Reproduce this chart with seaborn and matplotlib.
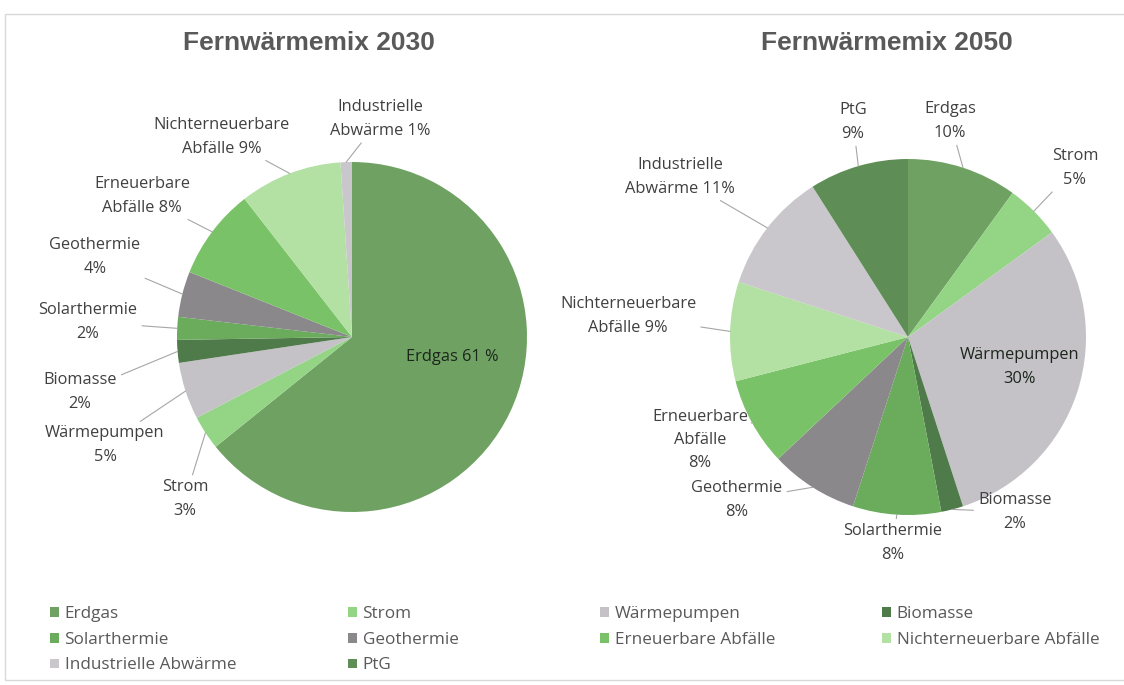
import matplotlib
matplotlib.use("Agg")
import matplotlib.pyplot as plt
from matplotlib.patches import Patch, Rectangle
import numpy as np
import seaborn as sns

# Energy sources (same order for both years, clockwise from 12 o'clock)
categories = ["Erdgas", "Strom", "Wärmepumpen", "Biomasse", "Solarthermie", "Geothermie",
              "Erneuerbare Abfälle", "Nichterneuerbare Abfälle", "Industrielle Abwärme", "PtG"]

# Shares in percent
share_2030 = [61, 3, 5, 2, 2, 4, 8, 9, 1, 0]
share_2050 = [10, 5, 30, 2, 8, 8, 8, 9, 11, 9]

colors = ["#6fa262", "#93d585", "#c4c2c6", "#4f7a4a", "#6aab5c",
          "#8a888b", "#79c267", "#b3e0a3", "#c9c7cb", "#5e8e55"]

# Label templates per slice (None = no label)
labels_2030 = ["Erdgas {} %", "Strom\n{}%", "Wärmepumpen\n{}%", "Biomasse\n{}%",
               "Solarthermie\n{}%", "Geothermie\n{}%", "Erneuerbare\nAbfälle {}%",
               "Nichterneuerbare\nAbfälle {}%", "Industrielle\nAbwärme {}%", None]
labels_2050 = ["Erdgas\n{}%", "Strom\n{}%", "Wärmepumpen\n{}%", "Biomasse\n{}%",
               "Solarthermie\n{}%", "Geothermie\n{}%", "Erneuerbare\nAbfälle\n{}%",
               "Nichterneuerbare\nAbfälle {}%", "Industrielle\nAbwärme {}%", "PtG\n{}%"]

# Label placement in pie-radius units (x, y); inside labels have no leader line
pos_2030 = [(0.571, -0.114), (-0.954, -0.926), (-1.411, -0.617), (-1.554, -0.314),
            (-1.509, 0.086), (-1.469, 0.457), (-1.20, 0.806), (-0.743, 1.143),
            (0.16, 1.246), None]
inside_2030 = [True] + [False] * 9
pos_2050 = [(0.236, 1.213), (0.938, 0.949), (0.629, -0.169), (0.60, -0.983),
            (-0.084, -1.157), (-0.961, -0.916), (-1.169, -0.579), (-1.573, 0.118),
            (-1.281, 0.899), (-0.309, 1.208)]
inside_2050 = [False, False, True] + [False] * 7

W, H = 1124, 685
sns.set_theme(style="white")
plt.rcParams["font.family"] = ["Open Sans", "DejaVu Sans"]

fig = plt.figure(figsize=(W / 100, H / 100), dpi=100)
fig.patch.set_facecolor("white")

# light frame around the chart area
fig.add_artist(Rectangle((5 / W, 5 / H), 1.2, (680 - 14) / H, transform=fig.transFigure,
                         fill=False, edgecolor="#d9d9d9", lw=1.0))


def draw_pie(cx, cy, r, values, templates, positions, inside, title, title_x):
    ax = fig.add_axes([(cx - r) / W, (H - cy - r) / H, 2 * r / W, 2 * r / H])
    wedges, _ = ax.pie(values, colors=colors, startangle=90, counterclock=False,
                       radius=1, wedgeprops=dict(linewidth=0))
    ax.set_xlim(-1, 1)
    ax.set_ylim(-1, 1)
    ax.axis("off")
    for w, v, tpl, p, ins in zip(wedges, values, templates, positions, inside):
        if tpl is None or p is None:
            continue
        text = tpl.format(v)
        if ins:
            ax.text(p[0], p[1], text, ha="center", va="center", fontsize=11.8,
                    color="#1c261c", linespacing=1.6)
            continue
        mid = np.deg2rad((w.theta1 + w.theta2) / 2)
        ax.annotate(text, xy=(np.cos(mid), np.sin(mid)), xytext=p,
                    ha="center", va="center", fontsize=11.8, color="#404040",
                    linespacing=1.6, annotation_clip=False,
                    arrowprops=dict(arrowstyle="-", color="#a6a6a6", lw=0.8,
                                    shrinkA=1, shrinkB=0))
    fig.text(title_x / W, 1 - 43 / H, title, ha="center", va="center",
             fontsize=19, fontweight="bold", color="#595959",
             family=["Liberation Sans", "DejaVu Sans"])


draw_pie(352, 337, 175, share_2030, labels_2030, pos_2030, inside_2030,
         "Fernwärmemix 2030", 309)
draw_pie(908, 337, 178, share_2050, labels_2050, pos_2050, inside_2050,
         "Fernwärmemix 2050", 887)

# Legend laid out row by row in four columns
col_x = [50, 348, 600, 882]
ncol = 4
for c in range(ncol):
    idx = list(range(c, len(categories), ncol))
    handles = [Patch(facecolor=colors[i], edgecolor="none") for i in idx]
    fig.legend(handles, [categories[i] for i in idx], loc="upper left",
               bbox_to_anchor=(col_x[c] / W, 1 - 606 / H), frameon=False,
               fontsize=12.3, labelcolor="#595959", handlelength=0.5,
               handleheight=0.5, handletextpad=0.35, labelspacing=0.57,
               borderpad=0, borderaxespad=0)

fig.savefig("out.png", dpi=100, facecolor="white")
